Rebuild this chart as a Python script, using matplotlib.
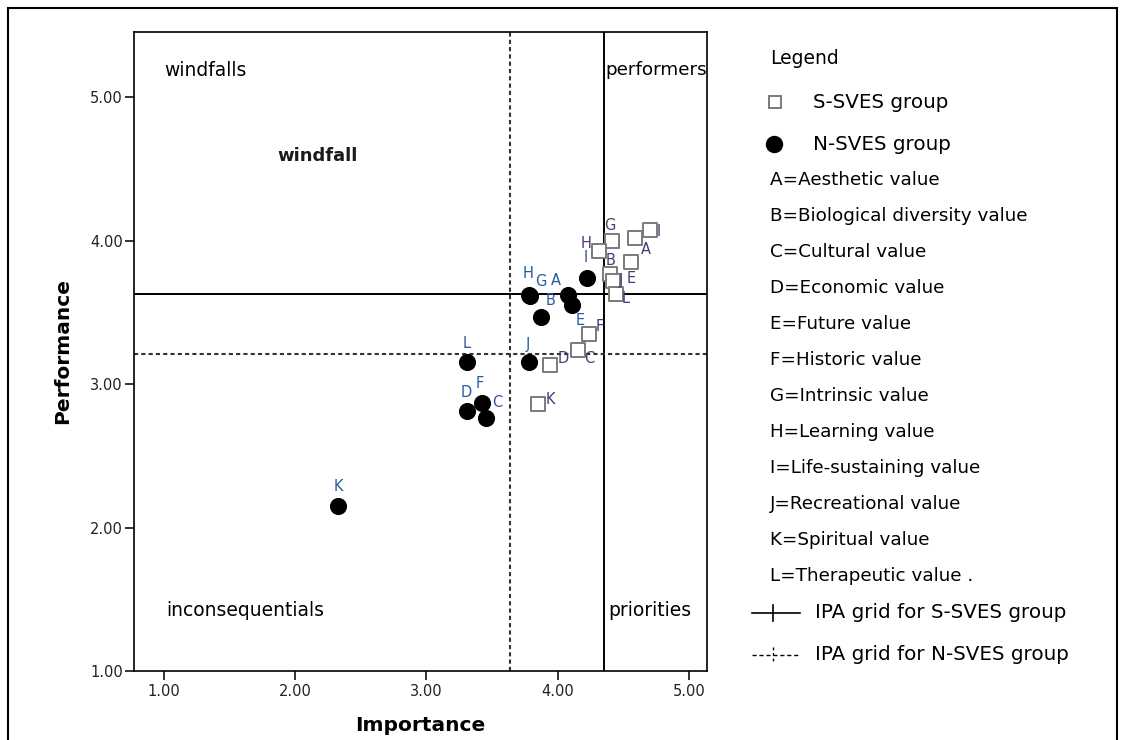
import matplotlib.pyplot as plt
from matplotlib.lines import Line2D
from matplotlib.patches import Rectangle

# Datos: importancia (x) y desempeño (y) por grupo
letras = ['A', 'B', 'C', 'D', 'E', 'F', 'G', 'H', 'I', 'J', 'K', 'L']
s_imp = [4.59, 4.40, 4.15, 3.94, 4.56, 4.24, 4.41, 4.31, 4.70, 4.42, 3.85, 4.44]
s_perf = [4.02, 3.77, 3.24, 3.13, 3.85, 3.35, 4.00, 3.93, 4.07, 3.72, 2.86, 3.63]
n_imp = [4.08, 3.87, 3.45, 3.31, 4.11, 3.42, 3.79, 3.78, 4.22, 3.78, 2.33, 3.31]
n_perf = [3.62, 3.47, 2.76, 2.81, 3.55, 2.87, 3.61, 3.62, 3.74, 3.15, 2.15, 3.15]

# grilla IPA (medias)
s_grid = (4.351, 3.63)
n_grid = (3.636, 3.21)

nombres = ['Aesthetic value', 'Biological diversity value', 'Cultural value',
           'Economic value', 'Future value', 'Historic value', 'Intrinsic value',
           'Learning value', 'Life-sustaining value', 'Recreational value',
           'Spiritual value', 'Therapeutic value .']

# desplazamientos de etiquetas (pixeles)
s_off = {'A': (11, -12), 'B': (0, 13), 'C': (12, -9), 'D': (13, 7), 'E': (0, -16),
         'F': (10, 7), 'G': (-2, 15), 'H': (-13, 7), 'I': (9, -1), 'J': (8, 0),
         'K': (12, 5), 'L': (10, -5)}
n_off = {'A': (-12, 15), 'B': (10, 16), 'C': (12, 16), 'D': (-1, 19), 'E': (8, -15),
         'F': (-2, 19), 'G': (11, 15), 'H': (-1, 22), 'I': (-1, 20), 'J': (-1, 18),
         'K': (0, 19), 'L': (-1, 19)}

W, H = 1125, 740
fig = plt.figure(figsize=(11.25, 7.4), dpi=100)
ax = fig.add_axes([133.8 / W, 1 - 671 / H, (707 - 133.8) / W, (671 - 32) / H])

ax.axvline(s_grid[0], color='black', lw=1.4)
ax.axhline(s_grid[1], color='black', lw=1.4)
ax.axvline(n_grid[0], color='#333333', lw=1.5, linestyle=(0, (2, 1.5)))
ax.axhline(n_grid[1], color='#333333', lw=1.5, linestyle=(0, (2, 1.5)))

ax.scatter(s_imp, s_perf, marker='s', s=95, facecolor='white', edgecolor='#7a7a7a',
           linewidths=1.4, zorder=3)
ax.scatter(n_imp, n_perf, marker='o', s=128, color='black', zorder=4)

for i, l in enumerate(letras):
    ax.annotate(l, (s_imp[i], s_perf[i]), xytext=s_off[l], textcoords='offset pixels',
                ha='center', va='center', fontsize=10.5, color='#4a3a78', zorder=5)
    ax.annotate(l, (n_imp[i], n_perf[i]), xytext=n_off[l], textcoords='offset pixels',
                ha='center', va='center', fontsize=10.5, color='#2b5a9e', zorder=5)

ax.text(1.315, 5.185, 'windfalls', ha='center', va='center', fontsize=13.5)
ax.text(4.745, 5.185, 'performers', ha='center', va='center', fontsize=13.2)
ax.text(2.175, 4.592, 'windfall', ha='center', va='center', fontsize=13,
        fontweight='bold', color='#1a1a1a')
ax.text(1.62, 1.42, 'inconsequentials', ha='center', va='center', fontsize=13.5)
ax.text(4.70, 1.42, 'priorities', ha='center', va='center', fontsize=13.5)

ax.set_xlim(0.773, 5.135)
ax.set_ylim(1.0, 5.453)
ax.set_xticks([1, 2, 3, 4, 5])
ax.set_yticks([1, 2, 3, 4, 5])
ax.set_xticklabels(['%.2f' % v for v in [1, 2, 3, 4, 5]])
ax.set_yticklabels(['%.2f' % v for v in [1, 2, 3, 4, 5]])
ax.tick_params(direction='out', length=6.5, width=1.3, labelsize=10.5, colors='#222222')
ax.tick_params(axis='x', pad=3)
ax.tick_params(axis='y', pad=1.5)
for sp in ax.spines.values():
    sp.set_linewidth(1.2)
ax.set_xlabel('Importance', fontsize=14.5, fontweight='bold', labelpad=12)
ax.set_ylabel('Performance', fontsize=14.5, fontweight='bold', labelpad=13)

# leyenda manual
def fx(x):
    return x / W

def fy(y):
    return 1 - y / H

fig.text(fx(770), fy(58), 'Legend', fontsize=13.5, va='center')
fig.add_artist(Line2D([fx(775)], [fy(102)], marker='s', markersize=9, mfc='white',
                      mec='#7a7a7a', mew=1.4, linestyle='none'))
fig.text(fx(813), fy(102), 'S-SVES group', fontsize=14.3, va='center')
fig.add_artist(Line2D([fx(774)], [fy(144)], marker='o', markersize=11.5, color='black',
                      linestyle='none'))
fig.text(fx(813), fy(144), 'N-SVES group', fontsize=14.3, va='center')

for i, l in enumerate(letras):
    fig.text(fx(770), fy(180 + i * 36), l + '=' + nombres[i], fontsize=13.2, va='center')

fig.add_artist(Line2D([fx(752), fx(800)], [fy(613), fy(613)], color='black', lw=1.2))
fig.add_artist(Line2D([fx(773), fx(773)], [fy(605), fy(621)], color='black', lw=1.2))
fig.text(fx(815), fy(613), 'IPA grid for S-SVES group', fontsize=14.3, va='center')
fig.add_artist(Line2D([fx(752), fx(800)], [fy(655), fy(655)], color='black', lw=1.0,
                      linestyle=(0, (3, 2))))
fig.add_artist(Line2D([fx(773), fx(773)], [fy(647), fy(663)], color='black', lw=1.0,
                      linestyle=(0, (2, 2))))
fig.text(fx(815), fy(655), 'IPA grid for N-SVES group', fontsize=14.3, va='center')

# marco exterior
fig.add_artist(Rectangle((fx(8), fy(750)), fx(1109), 742 / H, fill=False,
                         edgecolor='black', lw=1.5, transform=fig.transFigure,
                         clip_on=False))

fig.savefig('out.png', dpi=100)
